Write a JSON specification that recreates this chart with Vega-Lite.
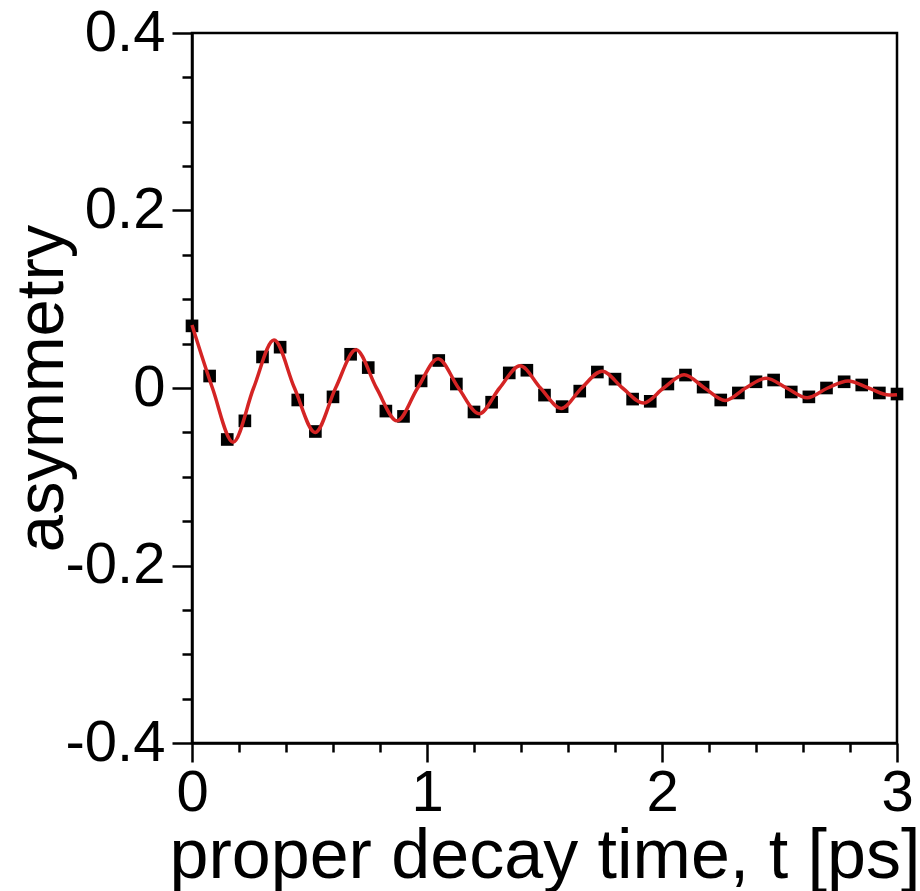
{
  "$schema": "https://vega.github.io/schema/vega-lite/v6.json",
  "width": 705,
  "height": 710,
  "autosize": {"type": "none"},
  "padding": {"left": 192, "top": 33, "right": 23, "bottom": 148},
  "background": "white",
  "config": {
    "view": {"stroke": "black", "strokeWidth": 2.5},
    "axis": {
      "grid": false,
      "domainColor": "black",
      "domainWidth": 2.5,
      "tickColor": "black",
      "tickWidth": 2.5,
      "labelColor": "black",
      "titleColor": "black",
      "labelFont": "Liberation Sans",
      "titleFont": "Liberation Sans",
      "labelFontSize": 58,
      "titleFontSize": 70,
      "titleFontWeight": "normal",
      "labelFlush": false,
      "labelOverlap": false,
      "labelBound": false
    }
  },
  "datasets": {
    "points": [
      {"t": 0.0, "a": 0.070}, {"t": 0.075, "a": 0.0135}, {"t": 0.15, "a": -0.058}, {"t": 0.225, "a": -0.037},
      {"t": 0.3, "a": 0.035}, {"t": 0.375, "a": 0.046}, {"t": 0.45, "a": -0.0135}, {"t": 0.525, "a": -0.049},
      {"t": 0.6, "a": -0.010}, {"t": 0.675, "a": 0.038}, {"t": 0.75, "a": 0.023}, {"t": 0.825, "a": -0.026},
      {"t": 0.9, "a": -0.032}, {"t": 0.975, "a": 0.008}, {"t": 1.05, "a": 0.031}, {"t": 1.125, "a": 0.0045},
      {"t": 1.2, "a": -0.027}, {"t": 1.275, "a": -0.016}, {"t": 1.35, "a": 0.017}, {"t": 1.425, "a": 0.020},
      {"t": 1.5, "a": -0.008}, {"t": 1.575, "a": -0.021}, {"t": 1.65, "a": -0.0035}, {"t": 1.725, "a": 0.018},
      {"t": 1.8, "a": 0.010}, {"t": 1.875, "a": -0.0125}, {"t": 1.95, "a": -0.015}, {"t": 2.025, "a": 0.0045},
      {"t": 2.1, "a": 0.0146}, {"t": 2.175, "a": 0.001}, {"t": 2.25, "a": -0.0135}, {"t": 2.325, "a": -0.0056},
      {"t": 2.4, "a": 0.007}, {"t": 2.475, "a": 0.009}, {"t": 2.55, "a": -0.0045}, {"t": 2.625, "a": -0.010},
      {"t": 2.7, "a": 0.0}, {"t": 2.775, "a": 0.007}, {"t": 2.85, "a": 0.0034}, {"t": 2.925, "a": -0.0056},
      {"t": 3.0, "a": -0.0068}
    ],
    "curve": [
      {"t": 0.0, "a": 0.071}, {"t": 0.087, "a": 0.0}, {"t": 0.175, "a": -0.061}, {"t": 0.262, "a": 0.0},
      {"t": 0.349, "a": 0.054}, {"t": 0.436, "a": 0.0}, {"t": 0.524, "a": -0.050}, {"t": 0.611, "a": 0.0},
      {"t": 0.698, "a": 0.043}, {"t": 0.785, "a": 0.0}, {"t": 0.873, "a": -0.037}, {"t": 0.96, "a": 0.0},
      {"t": 1.047, "a": 0.033}, {"t": 1.134, "a": 0.0}, {"t": 1.222, "a": -0.029}, {"t": 1.309, "a": 0.0},
      {"t": 1.396, "a": 0.025}, {"t": 1.483, "a": 0.0}, {"t": 1.571, "a": -0.023}, {"t": 1.658, "a": 0.0},
      {"t": 1.745, "a": 0.019}, {"t": 1.832, "a": 0.0}, {"t": 1.92, "a": -0.017}, {"t": 2.007, "a": 0.0},
      {"t": 2.094, "a": 0.015}, {"t": 2.181, "a": 0.0}, {"t": 2.269, "a": -0.014}, {"t": 2.356, "a": 0.0},
      {"t": 2.443, "a": 0.011}, {"t": 2.53, "a": 0.0}, {"t": 2.618, "a": -0.011}, {"t": 2.705, "a": 0.0},
      {"t": 2.792, "a": 0.008}, {"t": 2.879, "a": 0.0}, {"t": 2.967, "a": -0.008}, {"t": 3.0, "a": -0.0075}
    ]
  },
  "layer": [
    {
      "data": {"name": "points"},
      "mark": {"type": "point", "shape": "square", "filled": true, "size": 160, "color": "black", "opacity": 1},
      "encoding": {
        "x": {
          "field": "t", "type": "quantitative",
          "scale": {"domain": [0, 3], "nice": false, "zero": false},
          "axis": {
            "orient": "bottom",
            "values": [0, 1, 2, 3],
            "format": "d",
            "tickSize": 19,
            "labelPadding": 2,
            "title": "proper decay time, t [ps]",
            "titleBaseline": "alphabetic",
            "titleY": 134
          }
        },
        "y": {
          "field": "a", "type": "quantitative",
          "scale": {"domain": [-0.4, 0.4], "nice": false, "zero": false},
          "axis": {
            "orient": "left",
            "values": [-0.4, -0.2, 0, 0.2, 0.4],
            "labelExpr": "datum.value == 0 ? '0' : (datum.value < 0 ? '-' + format(-datum.value, '.1f') : format(datum.value, '.1f'))",
            "tickSize": 20,
            "labelPadding": 7,
            "title": "asymmetry",
            "titleFontSize": 67,
            "titleBaseline": "alphabetic",
            "titleX": -130,
            "titleY": 355
          }
        }
      }
    },
    {
      "data": {"name": "curve"},
      "mark": {"type": "line", "color": "#d42424", "strokeWidth": 3.5, "interpolate": "monotone"},
      "encoding": {
        "x": {
          "field": "t", "type": "quantitative",
          "axis": {
            "orient": "bottom",
            "values": [0.2, 0.4, 0.6, 0.8, 1.2, 1.4, 1.6, 1.8, 2.2, 2.4, 2.6, 2.8],
            "tickSize": 9,
            "labels": false,
            "domain": false,
            "title": null
          }
        },
        "y": {
          "field": "a", "type": "quantitative",
          "axis": {
            "orient": "left",
            "values": [-0.35, -0.3, -0.25, -0.15, -0.1, -0.05, 0.05, 0.1, 0.15, 0.25, 0.3, 0.35],
            "tickSize": 10,
            "labels": false,
            "domain": false,
            "title": null
          }
        }
      }
    }
  ],
  "resolve": {"axis": {"x": "independent", "y": "independent"}}
}
